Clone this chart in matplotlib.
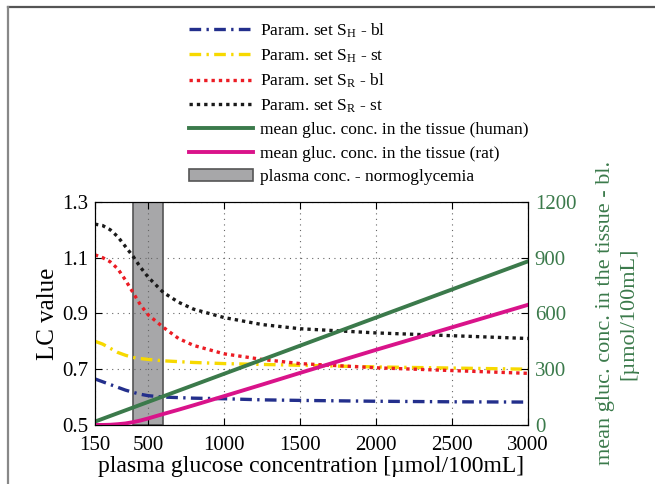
import matplotlib
matplotlib.use("Agg")
import matplotlib.pyplot as plt
from matplotlib.lines import Line2D

plt.rcParams["font.family"] = ["Liberation Serif", "DejaVu Serif"]
plt.rcParams["mathtext.default"] = "regular"

# plasma glucose concentration [umol/100mL]
plasma = [150, 200, 250, 300, 350, 400, 450, 500, 600, 700, 800, 1000, 1250, 1500, 2000, 2500, 3000]

# LC value curves
lc_SH_bl = [0.665, 0.655, 0.645, 0.635, 0.625, 0.617, 0.61, 0.605, 0.60, 0.598, 0.596, 0.594, 0.59, 0.588, 0.585, 0.583, 0.582]
lc_SH_st = [0.80, 0.79, 0.775, 0.76, 0.75, 0.742, 0.738, 0.735, 0.73, 0.727, 0.724, 0.72, 0.717, 0.714, 0.708, 0.704, 0.70]
lc_SR_bl = [1.11, 1.10, 1.085, 1.06, 1.02, 0.975, 0.93, 0.895, 0.85, 0.81, 0.785, 0.755, 0.735, 0.72, 0.705, 0.695, 0.685]
lc_SR_st = [1.22, 1.215, 1.20, 1.175, 1.14, 1.105, 1.065, 1.03, 0.975, 0.94, 0.915, 0.885, 0.86, 0.845, 0.83, 0.82, 0.81]

# mean glucose concentration in the tissue (right axis)
tissue_x_human = [150, 3000]
tissue_human = [18, 880]
tissue_rat = [0, 0, 1, 4, 8, 15, 24, 35, 59, 82, 106, 155, 217, 280, 404, 525, 646]

# normoglycemia band
normo = (400, 600)

x_ticks = [150, 500, 1000, 1500, 2000, 2500, 3000]
lc_ticks = [0.5, 0.7, 0.9, 1.1, 1.3]
tissue_ticks = [0, 300, 600, 900, 1200]

green = "#3b7a4b"

fig = plt.figure(figsize=(6.55, 4.84), dpi=100)
ax = fig.add_axes([0.145, 0.122, 0.661, 0.461])
ax2 = ax.twinx()

band = ax.axvspan(normo[0], normo[1], facecolor="#a7a7a9", edgecolor="#555555", lw=1.2, zorder=1)

lw_d = 2.4
l1, = ax.plot(plasma, lc_SH_bl, color="#232f8c", lw=lw_d, ls=(0, (3.5, 1.6, 0.7, 1.6)), zorder=3)
l2, = ax.plot(plasma, lc_SH_st, color="#f7d900", lw=lw_d, ls=(0, (3.5, 1.6, 0.7, 1.6)), zorder=3)
l3, = ax.plot(plasma, lc_SR_bl, color="#ec1c24", lw=lw_d, ls=(0, (1, 1.2)), zorder=3)
l4, = ax.plot(plasma, lc_SR_st, color="#1a1a1a", lw=lw_d, ls=(0, (1, 1.2)), zorder=3)

l5, = ax2.plot(tissue_x_human, tissue_human, color=green, lw=2.8)
l6, = ax2.plot(plasma, tissue_rat, color="#d9138a", lw=2.8)

ax.set_xlim(150, 3000)
ax.set_ylim(0.5, 1.3)
ax2.set_ylim(0, 1200)
ax.set_xticks(x_ticks)
ax.set_yticks(lc_ticks)
ax2.set_yticks(tissue_ticks)
ax.grid(True, ls=(0, (1, 4)), color="#666666", lw=0.8)

ax.tick_params(direction="in", labelsize=15, length=5, top=True)
ax.tick_params(axis="x", pad=8)
ax.tick_params(axis="y", pad=5)
ax2.tick_params(direction="in", labelsize=15, length=5, labelcolor=green, pad=5)
ax.set_xlabel("plasma glucose concentration [µmol/100mL]", fontsize=17, labelpad=1)
ax.set_ylabel("LC value", fontsize=18, labelpad=2)
ax2.set_ylabel("mean gluc. conc. in the tissue - bl.\n[µmol/100mL]", fontsize=16,
               color=green, labelpad=14, linespacing=1.3)

handles = [l1, l2, l3, l4, l5, l6, band]
labels = [
    "Param. set S$_H$ - bl",
    "Param. set S$_H$ - st",
    "Param. set S$_R$ - bl",
    "Param. set S$_R$ - st",
    "mean gluc. conc. in the tissue (human)",
    "mean gluc. conc. in the tissue (rat)",
    "plasma conc. - normoglycemia",
]
fig.legend(handles, labels, loc="upper left", bbox_to_anchor=(0.278, 0.97),
           frameon=False, fontsize=12.5, handlelength=3.7, labelspacing=0.42,
           handletextpad=0.4, borderaxespad=0)

# outer frame (top and left edges)
fig.add_artist(Line2D([0.012, 1.0], [0.986, 0.986], color="#555555", lw=1.6))
fig.add_artist(Line2D([0.012, 0.012], [0.0, 0.986], color="#888888", lw=1.6))

fig.savefig("out.png", dpi=100)
